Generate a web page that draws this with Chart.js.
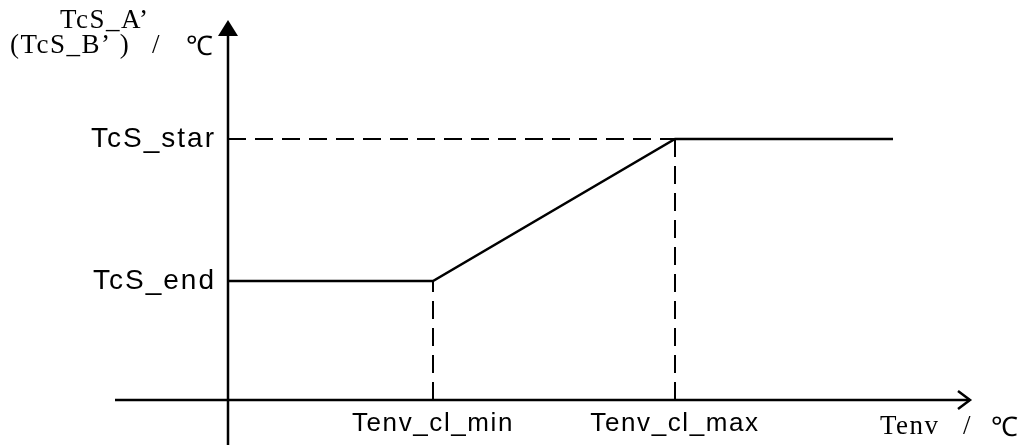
<!DOCTYPE html>
<html>
<head>
<meta charset="utf-8">
<script src="https://cdn.jsdelivr.net/npm/chart.js@4"></script>
<style>
  html, body { margin: 0; padding: 0; background: #fff; }
  canvas { display: block; }
</style>
</head>
<body>
<canvas id="chart" width="1032" height="445"></canvas>
<script>
// --- Curve breakpoints (arbitrary units, axis origin at 0,0) ---
const xBreaks  = [0, 2.05, 4.47, 6.65];
const yLevels  = [1.19, 1.19, 2.61, 2.61];
const xTickVals   = [2.05, 4.47];
const xTickLabels = ['Tenv_cl_min', 'Tenv_cl_max'];
const yTickVals   = [2.61, 1.19];
const yTickLabels = ['TcS_star', 'TcS_end'];
const yTitle = ['TcS_A\u2019', '(TcS_B\u2019 )', '/', '\u2103'];
const xTitle = ['Tenv', '/', '\u2103'];

// --- Visible axis extents ---
const xAxisFrom = -1.13, xAxisTo = 7.42;
const yAxisFrom = -0.45, yAxisTo = 3.80;

const pts = (xs, ys) => xs.map((x, i) => ({ x, y: ys[i] }));

const dashed = { borderColor: '#000', borderWidth: 2, borderDash: [18, 9], pointRadius: 0, fill: false };

const SANS  = '"Liberation Sans", Arial, sans-serif';
const SERIF = '"Liberation Serif", "Times New Roman", serif';
const DEG   = '300 "Noto Sans CJK SC", "DejaVu Sans", sans-serif';

// --- Axes with arrows + labels ---
const axesPlugin = {
  id: 'axes',
  beforeDatasetsDraw(chart) {
    const { ctx, scales: { x, y } } = chart;
    const x0 = x.getPixelForValue(0), y0 = y.getPixelForValue(0);
    ctx.save();
    ctx.strokeStyle = '#000'; ctx.fillStyle = '#000'; ctx.lineWidth = 2.5;

    // x axis with open arrow
    const xEnd = x.getPixelForValue(xAxisTo);
    ctx.beginPath();
    ctx.moveTo(x.getPixelForValue(xAxisFrom), y0);
    ctx.lineTo(xEnd, y0);
    ctx.stroke();
    ctx.beginPath();
    ctx.moveTo(xEnd - 12, y0 - 9);
    ctx.lineTo(xEnd, y0);
    ctx.lineTo(xEnd - 12, y0 + 9);
    ctx.stroke();

    // y axis with filled arrow
    const yEnd = y.getPixelForValue(yAxisTo);
    ctx.beginPath();
    ctx.moveTo(x0, y.getPixelForValue(yAxisFrom));
    ctx.lineTo(x0, yEnd + 12);
    ctx.stroke();
    ctx.beginPath();
    ctx.moveTo(x0, yEnd);
    ctx.lineTo(x0 - 10, yEnd + 16);
    ctx.lineTo(x0 + 10, yEnd + 16);
    ctx.closePath();
    ctx.fill();

    // tick labels
    ctx.font = '28px ' + SANS;
    ctx.letterSpacing = '2px';
    ctx.textAlign = 'right'; ctx.textBaseline = 'middle';
    yTickVals.forEach((v, i) => ctx.fillText(yTickLabels[i], x0 - 12, y.getPixelForValue(v)));
    ctx.font = '26px ' + SANS;
    ctx.letterSpacing = '1.6px';
    ctx.textAlign = 'center'; ctx.textBaseline = 'alphabetic';
    xTickVals.forEach((v, i) => ctx.fillText(xTickLabels[i], x.getPixelForValue(v), y0 + 31));

    // axis titles
    ctx.font = '27px ' + SERIF;
    ctx.letterSpacing = '1.5px';
    ctx.textAlign = 'left';
    ctx.fillText(yTitle[0], 60, 28);
    ctx.fillText(yTitle[1], 10, 53);
    ctx.fillText(yTitle[2], 152, 53);
    ctx.fillText(xTitle[0], 880, 434);
    ctx.fillText(xTitle[1], 963, 434);

    ctx.letterSpacing = '0px';
    ctx.font = '30px ' + DEG;
    ctx.fillText(yTitle[3], 186, 55);
    ctx.fillText(xTitle[2], 991, 436);
    ctx.restore();
  }
};

new Chart(document.getElementById('chart'), {
  type: 'scatter',
  data: {
    datasets: [
      { data: pts(xBreaks, yLevels), showLine: true, borderColor: '#000', borderWidth: 2.5, pointRadius: 0, fill: false },
      { data: pts([0, xBreaks[2]], [yLevels[2], yLevels[2]]), showLine: true, ...dashed },
      { data: pts([xBreaks[1], xBreaks[1]], [0, yLevels[1]]), showLine: true, ...dashed },
      { data: pts([xBreaks[2], xBreaks[2]], [0, yLevels[2]]), showLine: true, ...dashed }
    ]
  },
  options: {
    responsive: false,
    animation: false,
    layout: { padding: 0 },
    plugins: { legend: { display: false }, tooltip: { enabled: false } },
    scales: {
      x: { type: 'linear', min: -2.28, max: 8.04, display: false },
      y: { type: 'linear', min: -0.45, max: 4.00, display: false }
    }
  },
  plugins: [axesPlugin]
});
</script>
</body>
</html>
